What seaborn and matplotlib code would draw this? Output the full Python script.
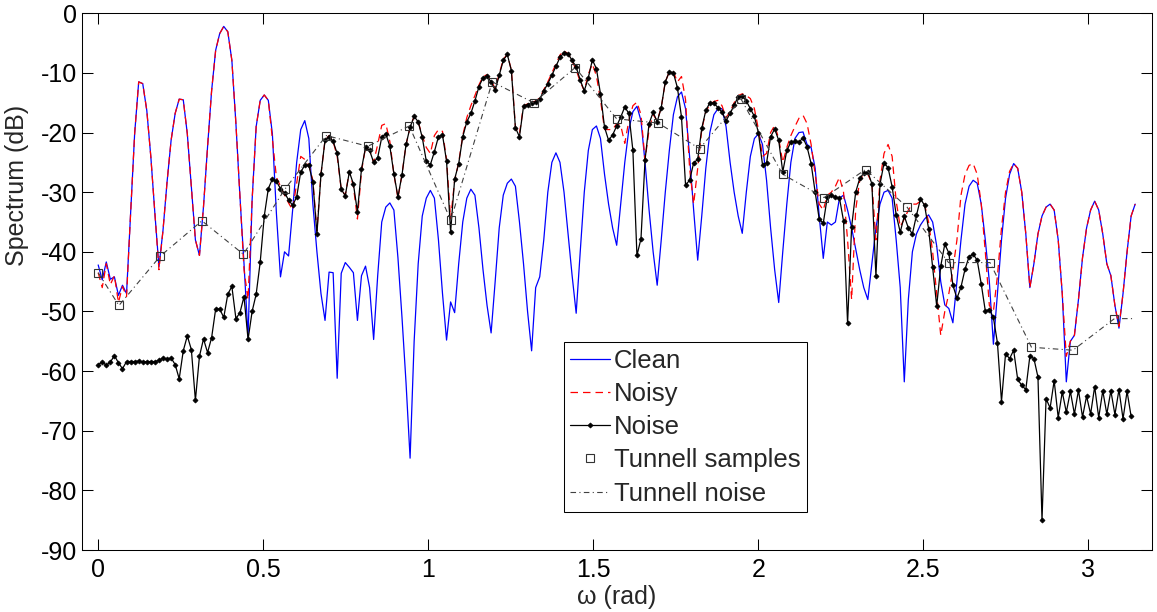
import numpy as np
import matplotlib
matplotlib.use("Agg")
import matplotlib.pyplot as plt
import seaborn as sns
from matplotlib.ticker import FormatStrFormatter, MultipleLocator

# ---------------- data (dB) ----------------
# Noise spectrum, 256 bins over [0, pi)
noise_db = [
    -58.9, -58.5, -59.0, -58.5, -57.4, -58.6, -59.6, -58.4, -58.4, -58.4, -58.3, -58.5, -58.4, -58.4, -58.4, -58.2,
    -57.8, -58.0, -57.8, -58.9, -61.3, -56.6, -54.1, -56.4, -64.9, -57.5, -54.6, -56.9, -54.4, -49.6, -49.6, -51.0,
    -47.1, -45.8, -51.2, -50.2, -47.5, -54.7, -50.0, -47.1, -41.7, -34.0, -29.4, -27.8, -28.2, -29.4, -30.1, -31.3,
    -32.2, -30.8, -26.6, -25.5, -25.5, -28.3, -37.0, -27.0, -21.3, -20.7, -21.5, -23.5, -29.5, -30.6, -26.6, -28.6,
    -33.3, -26.1, -22.5, -23.0, -25.0, -24.2, -20.8, -20.2, -22.3, -26.9, -30.8, -27.1, -22.0, -19.1, -17.3, -18.2,
    -20.8, -24.8, -25.4, -23.2, -20.7, -20.4, -24.8, -36.7, -27.8, -25.2, -20.7, -18.2, -16.8, -14.7, -12.3, -10.8,
    -10.6, -11.5, -12.9, -10.4, -7.9, -6.9, -9.6, -19.2, -20.7, -15.6, -15.3, -15.1, -14.8, -14.4, -13.0, -11.8,
    -10.4, -8.9, -7.4, -6.6, -6.8, -7.9, -9.0, -11.2, -13.0, -10.8, -7.8, -9.3, -13.5, -19.1, -21.3, -20.4,
    -18.9, -17.4, -15.7, -16.8, -23.0, -40.6, -37.8, -24.6, -18.5, -16.6, -18.2, -15.8, -11.5, -9.8, -10.0, -12.5,
    -17.4, -28.8, -28.0, -25.1, -24.5, -19.3, -16.3, -15.0, -15.1, -15.8, -16.6, -18.0, -16.8, -15.4, -14.0, -13.9,
    -14.7, -16.0, -17.3, -20.1, -25.4, -25.1, -20.7, -19.4, -21.3, -26.6, -23.0, -21.6, -21.5, -21.6, -20.9, -22.4,
    -25.2, -30.0, -34.5, -35.2, -30.8, -30.5, -30.8, -31.0, -34.8, -52.0, -35.8, -30.0, -27.7, -26.8, -26.6, -28.6,
    -44.1, -28.7, -25.1, -25.9, -29.1, -33.8, -36.7, -34.0, -36.0, -37.0, -33.9, -31.1, -32.2, -36.1, -42.6, -49.1,
    -42.4, -38.7, -40.2, -45.6, -47.8, -45.9, -42.9, -40.8, -40.4, -41.4, -45.4, -49.9, -49.7, -51.0, -55.3, -65.1,
    -57.1, -57.9, -56.5, -61.4, -62.4, -63.1, -57.5, -57.9, -61.0, -85.0, -64.6, -66.2, -61.6, -67.8, -63.5, -66.9,
    -63.4, -67.2, -63.2, -67.7, -64.2, -67.2, -62.6, -67.8, -63.3, -67.2, -63.3, -67.3, -63.1, -68.0, -63.4, -67.6,
]

# Clean spectrum, 257 bins over [0, pi]
clean_db = [
    -42.2, -44.7, -41.7, -44.6, -44.2, -47.3, -45.6, -47.0, -33.6, -20.2, -11.5, -11.8, -16.3, -24.1, -33.6, -42.5,
    -36.4, -28.3, -21.3, -16.8, -14.4, -14.5, -20.2, -29.1, -38.0, -40.6, -32.4, -22.4, -13.0, -6.2, -3.4, -2.2,
    -3.1, -7.9, -18.5, -30.8, -42.0, -54.2, -31.3, -19.0, -14.6, -13.7, -14.6, -20.2, -33.6, -44.2, -40.0, -40.7,
    -33.0, -25.0, -19.5, -18.0, -21.0, -32.0, -40.0, -47.0, -51.5, -43.4, -43.5, -61.2, -43.6, -41.8, -42.6, -43.5,
    -51.5, -44.0, -42.4, -46.0, -54.7, -44.0, -35.0, -32.5, -31.8, -33.0, -41.0, -51.0, -62.0, -74.6, -55.0, -42.0,
    -34.0, -31.0, -29.7, -31.0, -38.0, -47.0, -54.8, -48.4, -50.2, -42.0, -35.0, -31.0, -29.5, -30.5, -36.0, -43.0,
    -49.0, -53.6, -45.0, -36.0, -30.5, -28.5, -27.8, -29.0, -35.0, -42.0, -50.0, -56.6, -46.0, -44.2, -38.0, -30.0,
    -25.0, -23.4, -25.0, -30.0, -37.0, -44.0, -50.3, -40.0, -30.0, -23.0, -19.5, -18.9, -21.0, -27.0, -32.0, -36.0,
    -38.9, -32.0, -25.0, -19.5, -16.5, -15.6, -18.0, -25.0, -33.0, -40.0, -45.6, -38.0, -30.0, -23.0, -17.0, -14.0,
    -13.2, -16.0, -24.0, -33.0, -41.4, -34.0, -26.0, -20.0, -17.0, -16.0, -16.0, -19.0, -25.0, -30.0, -34.0, -36.9,
    -30.0, -24.0, -21.0, -20.2, -22.0, -28.0, -36.0, -43.0, -48.5, -40.0, -32.0, -25.0, -21.0, -20.0, -19.9, -22.0,
    -22.5, -26.0, -34.0, -41.1, -35.0, -35.5, -35.0, -31.0, -30.5, -33.0, -36.0, -39.5, -43.0, -46.0, -48.0, -42.0,
    -36.0, -32.0, -30.0, -29.7, -31.0, -38.0, -46.0, -61.8, -48.0, -40.0, -37.0, -35.5, -34.5, -33.8, -35.0, -39.0,
    -45.0, -48.9, -49.5, -51.9, -45.0, -38.0, -32.0, -29.0, -28.0, -28.5, -32.0, -38.0, -45.0, -55.5, -47.0, -38.0,
    -31.0, -27.0, -25.2, -26.0, -30.0, -37.0, -46.0, -42.0, -37.0, -34.0, -32.5, -32.0, -33.0, -38.0, -47.0, -61.8,
    -55.0, -54.0, -48.0, -41.0, -36.0, -33.0, -31.5, -33.0, -37.0, -42.0, -44.0, -49.0, -52.8, -47.0, -40.0, -34.0,
    -32.0,
]

# Noisy spectrum, 257 bins over [0, pi]
noisy_db = [
    -43.5, -46.0, -42.0, -45.5, -44.0, -48.5, -45.8, -47.5, -33.6, -20.2, -11.5, -11.8, -16.3, -24.1, -33.6, -43.0,
    -36.4, -28.3, -21.3, -16.8, -14.4, -14.5, -20.2, -29.1, -38.0, -40.6, -32.4, -22.4, -13.0, -6.2, -3.4, -2.2,
    -3.1, -7.9, -18.5, -30.8, -43.0, -48.0, -31.3, -19.0, -14.6, -13.7, -14.6, -21.0, -27.5, -29.0, -30.5, -31.8,
    -33.0, -28.5, -24.0, -24.5, -25.5, -28.0, -36.5, -27.0, -21.3, -20.5, -21.5, -24.0, -29.5, -30.5, -26.5, -29.0,
    -34.5, -26.5, -22.5, -23.0, -25.0, -22.0, -18.8, -18.5, -21.5, -27.0, -31.0, -27.0, -22.0, -19.1, -17.3, -18.2,
    -20.5, -22.5, -23.5, -20.5, -19.5, -19.8, -24.5, -34.5, -28.0, -25.0, -20.5, -17.5, -15.5, -13.8, -12.0, -10.6,
    -10.3, -11.3, -12.6, -10.2, -7.7, -6.9, -9.5, -19.0, -20.2, -15.5, -15.2, -15.0, -14.7, -14.2, -12.8, -11.5,
    -10.0, -8.5, -7.0, -6.3, -6.8, -8.0, -9.5, -11.5, -13.0, -10.2, -8.5, -10.5, -14.5, -19.5, -19.5, -19.5,
    -18.5, -18.8, -21.8, -18.0, -15.5, -14.9, -17.0, -24.6, -19.5, -17.0, -18.0, -15.8, -11.5, -9.8, -9.8, -11.5,
    -10.6, -14.5, -26.0, -32.0, -26.0, -19.5, -16.5, -15.3, -14.8, -14.6, -15.5, -17.5, -16.5, -15.0, -13.8, -13.5,
    -13.8, -14.3, -16.0, -19.5, -24.0, -23.5, -20.0, -18.8, -21.0, -25.0, -22.5, -20.5, -19.0, -17.6, -17.1, -18.5,
    -22.0, -27.0, -32.0, -33.0, -30.5, -30.0, -29.0, -27.5, -30.0, -38.0, -48.0, -33.0, -28.0, -27.0, -27.0, -28.5,
    -38.0, -28.0, -23.5, -22.0, -24.0, -31.5, -35.8, -34.5, -33.0, -32.0, -32.0, -31.5, -32.0, -35.0, -40.0, -47.0,
    -54.0, -50.0, -47.0, -43.0, -38.0, -30.5, -27.0, -25.5, -25.2, -27.0, -32.0, -40.0, -49.0, -50.0, -44.0, -36.0,
    -30.0, -26.5, -25.2, -26.0, -30.0, -37.0, -46.0, -42.0, -37.0, -34.0, -32.5, -32.0, -33.0, -38.0, -47.0, -57.5,
    -55.0, -54.0, -48.0, -41.0, -36.0, -33.0, -31.5, -33.0, -37.0, -42.0, -44.0, -49.0, -52.5, -47.0, -40.0, -34.0,
    -32.0,
]

# Tunnell samples: at w = 0 and at odd multiples of pi/50
tunnell_db = [-43.5, -49.0, -40.7, -34.8, -40.4, -29.5, -20.5, -22.3, -18.9, -34.7,
              -11.5, -15.0, -9.1, -17.7, -18.4, -22.7, -14.4, -27.0, -30.9, -26.2,
              -32.5, -41.8, -41.8, -56.0, -56.5, -51.2]
tunnell_end_db = -51.2   # Tunnell noise value at w = pi

legend_labels = ["Clean", "Noisy", "Noise", "Tunnell samples", "Tunnell noise"]

# frequency grids
w_noise = np.arange(len(noise_db)) * np.pi / 256
w_full = np.arange(len(clean_db)) * np.pi / 256
w_tun = np.concatenate([[0.0], (2 * np.arange(len(tunnell_db) - 1) + 1) * np.pi / 50])
w_tun_line = np.append(w_tun, np.pi)
tun_line_db = list(tunnell_db) + [tunnell_end_db]

# ---------------- style ----------------
sns.set_style("ticks")
plt.rcParams["font.family"] = ["Liberation Sans", "DejaVu Sans"]
plt.rcParams["axes.unicode_minus"] = False

fig = plt.figure(figsize=(11.57, 6.12), dpi=100)
ax = fig.add_axes([0.0706, 0.1013, 0.9248, 0.877])

sns.lineplot(x=w_full, y=clean_db, ax=ax, estimator=None, sort=False,
             color="#0000FF", linewidth=0.9, label=legend_labels[0])
sns.lineplot(x=w_full, y=noisy_db, ax=ax, estimator=None, sort=False,
             color="#FF0000", linewidth=0.9, linestyle=(0, (6, 4)), label=legend_labels[1])
sns.lineplot(x=w_noise, y=noise_db, ax=ax, estimator=None, sort=False,
             color="black", linewidth=0.9, marker="D", markersize=2.6,
             markeredgecolor="black", markerfacecolor="black", markeredgewidth=0.5,
             label=legend_labels[2])
sns.lineplot(x=w_tun, y=tunnell_db, ax=ax, estimator=None, sort=False,
             color="#333333", linestyle="none", marker="s", markersize=6,
             markerfacecolor="none", markeredgecolor="#333333", markeredgewidth=0.8,
             label=legend_labels[3])
sns.lineplot(x=w_tun_line, y=tun_line_db, ax=ax, estimator=None, sort=False,
             color="#404040", linewidth=0.8, linestyle=(0, (5, 3, 1, 3)),
             label=legend_labels[4])

ax.set_xlim(-0.05, np.pi + 0.05)
ax.set_ylim(-90, 0)
ax.xaxis.set_major_locator(MultipleLocator(0.5))
ax.yaxis.set_major_locator(MultipleLocator(10))
ax.xaxis.set_major_formatter(FormatStrFormatter("%g"))
ax.yaxis.set_major_formatter(FormatStrFormatter("%g"))
ax.tick_params(direction="in", length=8, width=0.75, top=True, right=True,
               labelsize=18, colors="black")
ax.tick_params(axis="x", pad=6)
ax.tick_params(axis="y", pad=3.5)
for s in ax.spines.values():
    s.set_visible(True)
    s.set_color("black")
    s.set_linewidth(0.75)
ax.set_xlabel("ω (rad)", fontsize=18, labelpad=2)
ax.set_ylabel("Spectrum (dB)", fontsize=18, labelpad=4)
ax.yaxis.set_label_coords(-0.049, 0.68)
ax.grid(False)

leg = ax.legend(loc="lower left", bbox_to_anchor=(0.4508, 0.0708), borderaxespad=0,
                fontsize=18.5, frameon=True, fancybox=False, framealpha=1,
                edgecolor="black", borderpad=0.25, labelspacing=0.36,
                handlelength=1.55, handletextpad=0.15, numpoints=1)
leg.get_frame().set_linewidth(0.75)

fig.savefig("out.png", dpi=100, facecolor="white")
